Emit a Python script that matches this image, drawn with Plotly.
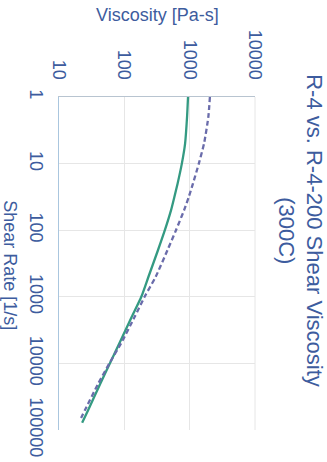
import plotly.graph_objects as go

# Shear rate [1/s]
shear_rate = [1, 2, 5, 10, 20, 32, 50, 100, 200, 500, 1000, 2000, 5000, 10000, 20000, 50000, 78000]
# R-4 viscosity [Pa-s] (solid)
visc_r4 = [944, 912, 851, 759, 653, 582, 519, 417, 327, 234, 182, 130, 84, 60, 43, 28, 22.6]
# R-4-200 viscosity [Pa-s] (dashed)
shear_rate_200 = [1, 2, 5, 10, 20, 32, 50, 100, 200, 500, 1000, 2000, 5000, 10000, 20000, 50000, 71000]
visc_r4_200 = [2040, 1930, 1660, 1380, 1122, 966, 822, 617, 457, 302, 204, 144, 89, 59, 40, 25, 21]

visc_ticks = [10, 100, 1000, 10000]
visc_ticktext = ["10", "100", "1000", "10000"]
rate_ticks = [1, 10, 100, 1000, 10000, 100000]
rate_ticktext = ["1", "10", "100", "1000", "10000", "100000"]

title_line1 = "R-4 vs. R-4-200 Shear Viscosity"
title_line2 = "(300C)"
x_title = "Viscosity [Pa-s]"
y_title = "Shear Rate [1/s]"

TXT = "#3d5c9e"
FONT = "Liberation Sans, Arial, sans-serif"

fig = go.Figure()
fig.add_trace(go.Scatter(x=visc_r4, y=shear_rate, mode="lines",
                         line=dict(color="#349a82", width=2.3, shape="spline", smoothing=0.6),
                         name="R-4"))
fig.add_trace(go.Scatter(x=visc_r4_200, y=shear_rate_200, mode="lines",
                         line=dict(color="#6a6cab", width=2.3, dash="5px,3px",
                                   shape="spline", smoothing=0.6),
                         name="R-4-200"))

fig.update_layout(
    width=327, height=462,
    margin=dict(l=59, r=72, t=97, b=32),
    paper_bgcolor="white", plot_bgcolor="white",
    showlegend=False,
    font=dict(family=FONT, color=TXT, size=18),
    xaxis=dict(type="log", range=[1, 4], side="top", automargin=False,
               tickvals=visc_ticks, ticktext=visc_ticktext, tickangle=90,
               tickfont=dict(size=18, color=TXT), ticks="",
               ticklabelstandoff=10,
               showgrid=True, gridcolor="#e6e6e6", gridwidth=1,
               showline=True, linecolor="#b8c4d0", linewidth=1,
               zeroline=False),
    yaxis=dict(type="log", range=[5, 0], automargin=False,
               tickvals=rate_ticks, ticktext=rate_ticktext, tickangle=90,
               tickfont=dict(size=18, color=TXT), ticks="",
               ticklabelstandoff=6,
               showgrid=True, gridcolor="#e6e6e6", gridwidth=1,
               showline=True, linecolor="#aac6de", linewidth=1,
               zeroline=False),
    annotations=[
        dict(text=x_title, xref="paper", yref="paper", x=0.5, y=1.246,
             showarrow=False, font=dict(size=18, color=TXT, family=FONT),
             xanchor="center", yanchor="middle"),
        dict(text=y_title, xref="paper", yref="paper", x=-0.25, y=0.495,
             showarrow=False, textangle=90, font=dict(size=18, color=TXT, family=FONT),
             xanchor="center", yanchor="middle"),
        dict(text=title_line1, xref="paper", yref="paper", x=(315 - 59) / 196, y=0.60,
             showarrow=False, textangle=90, font=dict(size=22, color=TXT, family=FONT),
             xanchor="center", yanchor="middle"),
        dict(text=title_line2, xref="paper", yref="paper", x=(287 - 59) / 196, y=0.60,
             showarrow=False, textangle=90, font=dict(size=22, color=TXT, family=FONT),
             xanchor="center", yanchor="middle"),
    ],
)
fig.add_shape(type="line", xref="paper", yref="paper", x0=1, x1=1, y0=0, y1=1,
              line=dict(color="#e6e6e6", width=1))

fig.write_html("out.html", config={"displayModeBar": False},
               post_script="document.body.style.margin='0px';document.body.style.padding='0px';")
